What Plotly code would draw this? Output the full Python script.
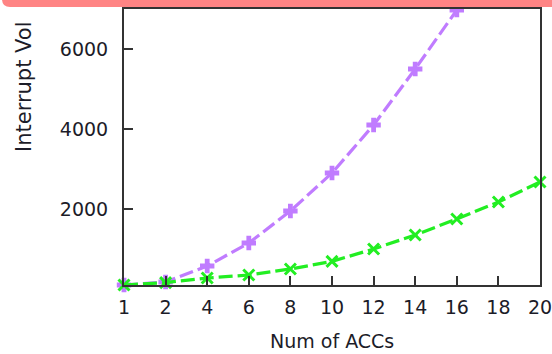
import plotly.graph_objects as go

# Number of accelerators on the x axis (evenly spaced categories)
acc_counts = ["1", "2", "4", "6", "8", "10", "12", "14", "16", "18", "20"]

# Interrupt volume per configuration
series_a = [100, 175, 575, 1150, 1950, 2900, 4100, 5500, 6975, 8600, 10400]
series_b = [100, 160, 275, 350, 500, 690, 1000, 1350, 1750, 2175, 2675]

y_ticks = [2000, 4000, 6000]

W, H = 552, 354
ML, MR, MT, MB = 124, 12, 9, 69
PW, PH = W - ML - MR, H - MT - MB

FONT = "DejaVu Sans"
TXT = "#1c1c28"

xi = list(range(len(acc_counts)))

fig = go.Figure()
fig.add_trace(go.Scatter(
    x=xi, y=series_a, mode="lines+markers", cliponaxis=False,
    line=dict(color="#c07cff", width=3.2, dash="14px,5px"),
    marker=dict(symbol="cross", size=12, color="#c07cff"),
    showlegend=False,
))
fig.add_trace(go.Scatter(
    x=xi, y=series_b, mode="lines+markers", cliponaxis=False,
    line=dict(color="#22ee22", width=3.2, dash="14px,5px"),
    marker=dict(symbol="x-thin", size=11, color="#22ee22",
                line=dict(color="#22ee22", width=3)),
    showlegend=False,
))


def px_x(p):
    return (p - ML) / PW


def px_y(p):
    return (H - MB - p) / PH


# Rounded banner across the top edge
bx0, bx1, by0, by1, r = 2, 560, -2, 7, 8
path = (f"M {px_x(bx0)},{px_y(by0)} L {px_x(bx1)},{px_y(by0)} "
        f"L {px_x(bx1)},{px_y(by1)} L {px_x(bx0 + r)},{px_y(by1)} "
        f"Q {px_x(bx0)},{px_y(by1)} {px_x(bx0)},{px_y(by1 - r)} Z")
fig.add_shape(type="path", path=path, xref="paper", yref="paper",
              fillcolor="#ff8484", line=dict(width=0), layer="above")

fig.add_annotation(text="Num of ACCs", xref="paper", yref="paper",
                   x=px_x(332), y=px_y(341), showarrow=False,
                   font=dict(family=FONT, size=19, color=TXT),
                   xanchor="center", yanchor="middle")
fig.add_annotation(text="Interrupt Vol", xref="paper", yref="paper",
                   x=px_x(24), y=px_y(87), showarrow=False, textangle=-90,
                   font=dict(family=FONT, size=21, color=TXT),
                   xanchor="center", yanchor="middle")

fig.update_layout(
    width=W, height=H,
    margin=dict(l=ML, r=MR, t=MT, b=MB, pad=0, autoexpand=False),
    paper_bgcolor="white", plot_bgcolor="white",
    font=dict(family=FONT, size=19, color=TXT),
)
fig.update_xaxes(
    range=[0, len(acc_counts) - 1], tickmode="array", tickvals=xi,
    ticktext=acc_counts, ticks="inside", ticklen=9, tickwidth=2,
    tickcolor="#333", showline=True, linecolor="#333", linewidth=2,
    mirror=True, showgrid=False, zeroline=False, ticklabelstandoff=4,
    ticklabeloverflow="allow", automargin=False,
)
fig.update_yaxes(
    range=[100, 7000], tickmode="array", tickvals=y_ticks,
    ticks="inside", ticklen=9, tickwidth=2, tickcolor="#333",
    showline=True, linecolor="#333", linewidth=2, mirror=True,
    showgrid=False, zeroline=False, ticklabelstandoff=10, automargin=False,
)

fig.write_html("out.html")
